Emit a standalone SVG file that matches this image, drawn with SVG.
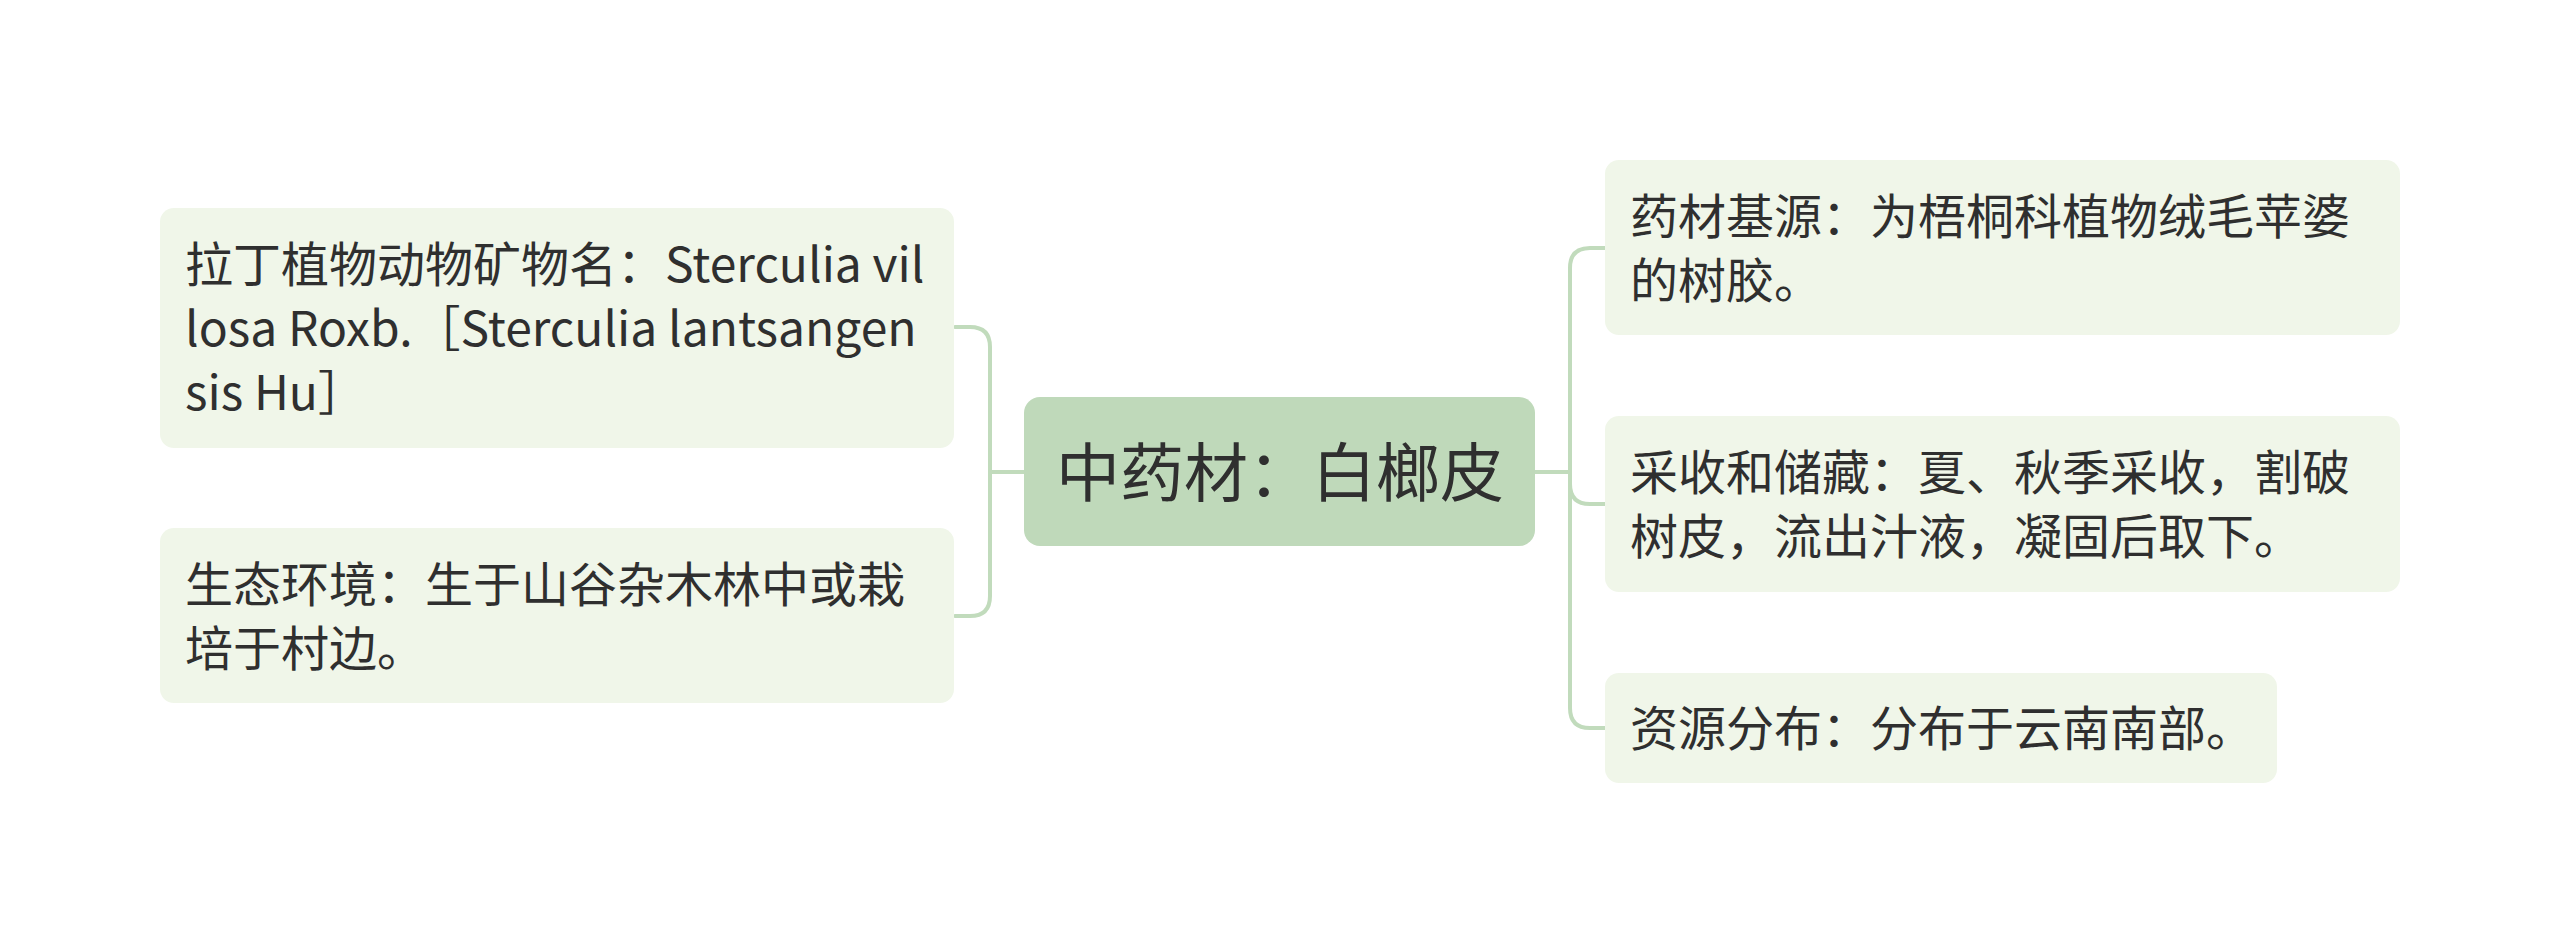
<svg xmlns="http://www.w3.org/2000/svg" width="2560" height="944" viewBox="0 0 2560 944">
<style>
.bg{fill:#ffffff}
.child{fill:#F0F6E9}
.root{fill:#BFD9BA}
.t{font-family:"Noto Sans CJK SC","Noto Sans",sans-serif;font-size:48px;fill:#2F2F2F}
.rt{font-family:"Noto Sans CJK SC","Noto Sans",sans-serif;font-size:64px;fill:#2F2F2F}
.c{fill:none;stroke:#C1DBBC;stroke-width:4;stroke-linecap:round}
</style>
<rect class="bg" x="0" y="0" width="2560" height="944"/>
<g id="connectors">
<path class="c" d="M1024 472 H990"/>
<path class="c" d="M990 472 V347 Q990 327 970 327 H955"/>
<path class="c" d="M990 472 V596 Q990 616 970 616 H955"/>
<path class="c" d="M1535 472 H1570"/>
<path class="c" d="M1570 472 V268 Q1570 248 1590 248 H1605"/>
<path class="c" d="M1570 472 V484 Q1570 504 1590 504 H1605"/>
<path class="c" d="M1570 472 V708 Q1570 728 1590 728 H1605"/>
</g>
<g id="root">
<rect class="root" x="1024" y="397" width="511" height="149" rx="16"/>
<text class="rt" x="1280" y="496" text-anchor="middle">中药材：白榔皮</text>
</g>
<g id="latin-name">
<rect class="child" x="160" y="208" width="794" height="240" rx="14"/>
<text class="t" x="185" y="282">拉丁植物动物矿物名：Sterculia vil</text>
<text class="t" x="185" y="346">losa Roxb.［Sterculia lantsangen</text>
<text class="t" x="185" y="410">sis Hu］</text>
</g>
<g id="ecology">
<rect class="child" x="160" y="528" width="794" height="175" rx="14"/>
<text class="t" x="185" y="602">生态环境：生于山谷杂木林中或栽</text>
<text class="t" x="185" y="666">培于村边。</text>
</g>
<g id="source">
<rect class="child" x="1605" y="160" width="795" height="175" rx="14"/>
<text class="t" x="1630" y="234">药材基源：为梧桐科植物绒毛苹婆</text>
<text class="t" x="1630" y="298">的树胶。</text>
</g>
<g id="harvest">
<rect class="child" x="1605" y="416" width="795" height="176" rx="14"/>
<text class="t" x="1630" y="490">采收和储藏：夏、秋季采收，割破</text>
<text class="t" x="1630" y="554">树皮，流出汁液，凝固后取下。</text>
</g>
<g id="distribution">
<rect class="child" x="1605" y="673" width="672" height="110" rx="14"/>
<text class="t" x="1630" y="746">资源分布：分布于云南南部。</text>
</g>
</svg>
